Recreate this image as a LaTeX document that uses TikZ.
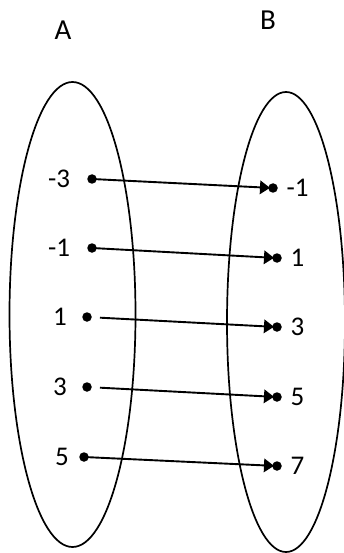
\documentclass[tikz,border=0pt]{standalone}
\usepackage{fontspec}
\setmainfont{Carlito}
\usetikzlibrary{arrows.meta}
\begin{document}
\begin{tikzpicture}[x=1pt,y=-1pt,
  dotnode/.style={circle,fill=black,inner sep=0pt,minimum size=9.5pt},
  lbl/.style={inner sep=0pt,font=\fontsize{27}{31}\selectfont},
  ttl/.style={inner sep=0pt,font=\fontsize{29}{33}\selectfont},
  maparrow/.style={line width=1.9pt,-{Triangle[length=10pt,width=13.5pt]},shorten >=3pt},
  setline/.style={line width=1.7pt}]
\useasboundingbox (0,0) rectangle (344,553);
% sets
\draw[setline] (72.5,314.5) ellipse [x radius=63, y radius=232.5];
\draw[setline] (286,322) ellipse [x radius=59, y radius=230];
% titles
\node[ttl] (tA) at (63,30) {A};
\node[ttl] (tB) at (268,20) {B};
% domain dots and labels
\node[dotnode] (a1) at (92,179) {};
\node[dotnode] (a2) at (92,248) {};
\node[dotnode] (a3) at (87,317) {};
\node[dotnode] (a4) at (87,387) {};
\node[dotnode] (a5) at (84,457) {};
\node[lbl] (la1) at (59,179) {-3};
\node[lbl] (la2) at (59,248) {-1};
\node[lbl] (la3) at (60,317) {1};
\node[lbl] (la4) at (60,387) {3};
\node[lbl] (la5) at (62,457) {5};
% codomain dots and labels
\node[dotnode] (b1) at (273,188) {};
\node[dotnode] (b2) at (277,258) {};
\node[dotnode] (b3) at (277,327) {};
\node[dotnode] (b4) at (277,397) {};
\node[dotnode] (b5) at (277,466) {};
\node[lbl] (lb1) at (297.5,188) {-1};
\node[lbl] (lb2) at (297.5,258) {1};
\node[lbl] (lb3) at (297.5,327) {3};
\node[lbl] (lb4) at (297.5,397) {5};
\node[lbl] (lb5) at (297.5,466) {7};
% mapping arrows
\draw[maparrow] (a1.center) -- (b1.center);
\draw[maparrow] (a2.center) -- (b2.center);
\draw[maparrow,shorten <=13pt] (a3.center) -- (b3.center);
\draw[maparrow,shorten <=13pt] (a4.center) -- (b4.center);
\draw[maparrow] (a5.center) -- (b5.center);
\end{tikzpicture}
\end{document}
